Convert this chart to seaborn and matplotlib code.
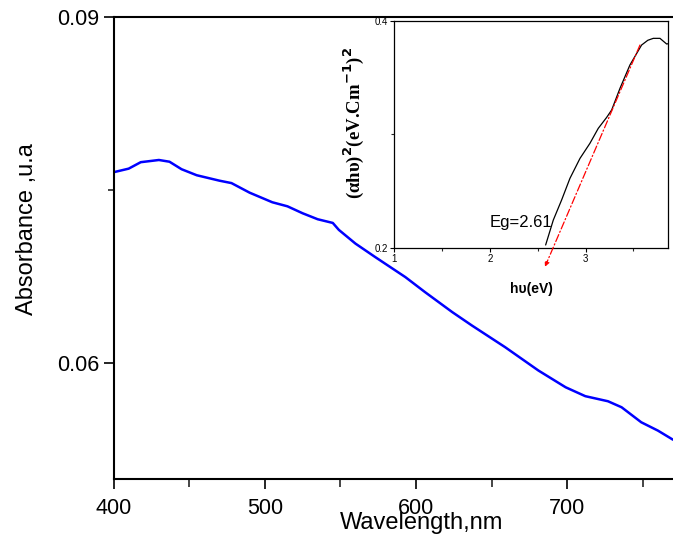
import numpy as np
import pandas as pd
import matplotlib
matplotlib.use("Agg")
import matplotlib.pyplot as plt
import seaborn as sns
from matplotlib.ticker import MultipleLocator, FixedLocator

# ---- main spectrum data ----
wavelength = [400, 410, 418, 430, 437, 445, 455, 470, 478, 490, 505, 515, 525, 535, 545,
              549, 560, 573, 593, 606, 624, 637, 659, 681, 699, 712, 727, 736, 749, 760, 770]
absorbance = [0.07656, 0.07687, 0.07743, 0.07762, 0.07747, 0.07682, 0.07630, 0.07583, 0.07562,
              0.07479, 0.07396, 0.07361, 0.07301, 0.07249, 0.07217, 0.07157, 0.07038, 0.06922,
              0.06748, 0.06618, 0.06445, 0.06329, 0.06141, 0.05939, 0.05794, 0.05717, 0.05673,
              0.05621, 0.05491, 0.05419, 0.05340]

# ---- inset Tauc plot data ----
hv = [2.582, 2.662, 2.749, 2.836, 2.941, 3.045, 3.132, 3.220, 3.272, 3.359, 3.463,
      3.585, 3.650, 3.707, 3.777, 3.847, 3.864]
ahv2 = [0.2024, 0.2244, 0.2421, 0.2612, 0.2788, 0.2921, 0.3053, 0.3150, 0.3215, 0.3406,
        0.3612, 0.3788, 0.3830, 0.3847, 0.3847, 0.3797, 0.3800]

fit_start = (3.568, 0.3788)
fit_end = (2.575, 0.1832)
eg_label = "Eg=2.61"

main_xticks = [400, 500, 600, 700]
main_yticks = [0.06, 0.09]
inset_xticks = [1, 2, 3]
inset_yticks = [0.2, 0.4]

sns.set_style("ticks")
plt.rcParams['font.family'] = ['Liberation Sans', 'DejaVu Sans']
plt.rcParams['text.color'] = 'black'
plt.rcParams['axes.labelcolor'] = 'black'

fig = plt.figure(figsize=(6.73, 5.4), dpi=100)
ax = fig.add_axes([0.1687, 0.1130, 0.8313, 0.8555])

df = pd.DataFrame({"wl": wavelength, "abs": absorbance})
sns.lineplot(data=df, x="wl", y="abs", ax=ax, color="#0000ff", linewidth=1.8)

ax.set_xlim(400, 770)
ax.set_ylim(0.05, 0.09)
ax.xaxis.set_major_locator(FixedLocator(main_xticks))
ax.xaxis.set_minor_locator(MultipleLocator(50))
ax.yaxis.set_major_locator(FixedLocator(main_yticks))
ax.yaxis.set_minor_locator(FixedLocator([0.075]))
ax.set_xticklabels([str(t) for t in main_xticks])
ax.set_yticklabels(["0.06", "0.09"])
ax.tick_params(axis='both', which='major', direction='out', length=7, width=1.2,
               labelsize=15.5, colors='black', pad=7)
ax.tick_params(axis='y', which='major', pad=3)
ax.tick_params(axis='x', which='minor', direction='out', length=6, width=1.2)
ax.tick_params(axis='y', which='minor', direction='out', length=4, width=1.2)
for s in ['left', 'bottom', 'top']:
    ax.spines[s].set_linewidth(1.5)
    ax.spines[s].set_color('black')
ax.spines['right'].set_visible(False)
ax.set_xlabel("Wavelength,nm", fontsize=17)
ax.set_ylabel("Absorbance ,u.a", fontsize=17)
ax.xaxis.set_label_coords(0.55, -0.072)
ax.yaxis.set_label_coords(-0.135, 0.54)

# ---- inset ----
ins = fig.add_axes([0.5859, 0.5413, 0.4071, 0.4198])
idf = pd.DataFrame({"hv": hv, "a": ahv2})
sns.lineplot(data=idf, x="hv", y="a", ax=ins, color="black", linewidth=0.9)
ins.set_xlim(1, 3.864)
ins.set_ylim(0.2, 0.4)
ins.xaxis.set_major_locator(FixedLocator(inset_xticks))
ins.xaxis.set_minor_locator(MultipleLocator(0.5))
ins.yaxis.set_major_locator(FixedLocator(inset_yticks))
ins.yaxis.set_minor_locator(FixedLocator([0.3]))
ins.set_xticklabels([str(t) for t in inset_xticks])
ins.set_yticklabels(["0.2", "0.4"])
ins.tick_params(axis='both', which='major', direction='out', length=3, width=0.8,
                labelsize=7, pad=1.5, colors='black')
ins.tick_params(axis='both', which='minor', direction='out', length=2, width=0.8)
for s in ins.spines.values():
    s.set_linewidth(0.9)
    s.set_color('black')
ins.set_xlabel("hυ(eV)", fontsize=10, fontweight='bold')
ins.xaxis.set_label_coords(0.5, -0.15)
ins.set_ylabel(r"(αhυ)$^{\mathbf{2}}$(eV.Cm$^{\mathbf{-1}}$)$^{\mathbf{2}}$", fontsize=13.5,
               fontweight='bold', family=['Liberation Serif', 'DejaVu Serif'])
ins.yaxis.set_label_coords(-0.105, 0.55)

ins.annotate("", xy=fit_end, xytext=fit_start, annotation_clip=False,
             arrowprops=dict(arrowstyle="-|>", color="red", linestyle=(0, (6, 2, 1, 2)),
                             linewidth=0.9, mutation_scale=7, shrinkA=0, shrinkB=0))
ins.text(2.0, 0.222, eg_label, fontsize=12, ha='left', va='center', color='black')

fig.savefig("out.png", dpi=100)
